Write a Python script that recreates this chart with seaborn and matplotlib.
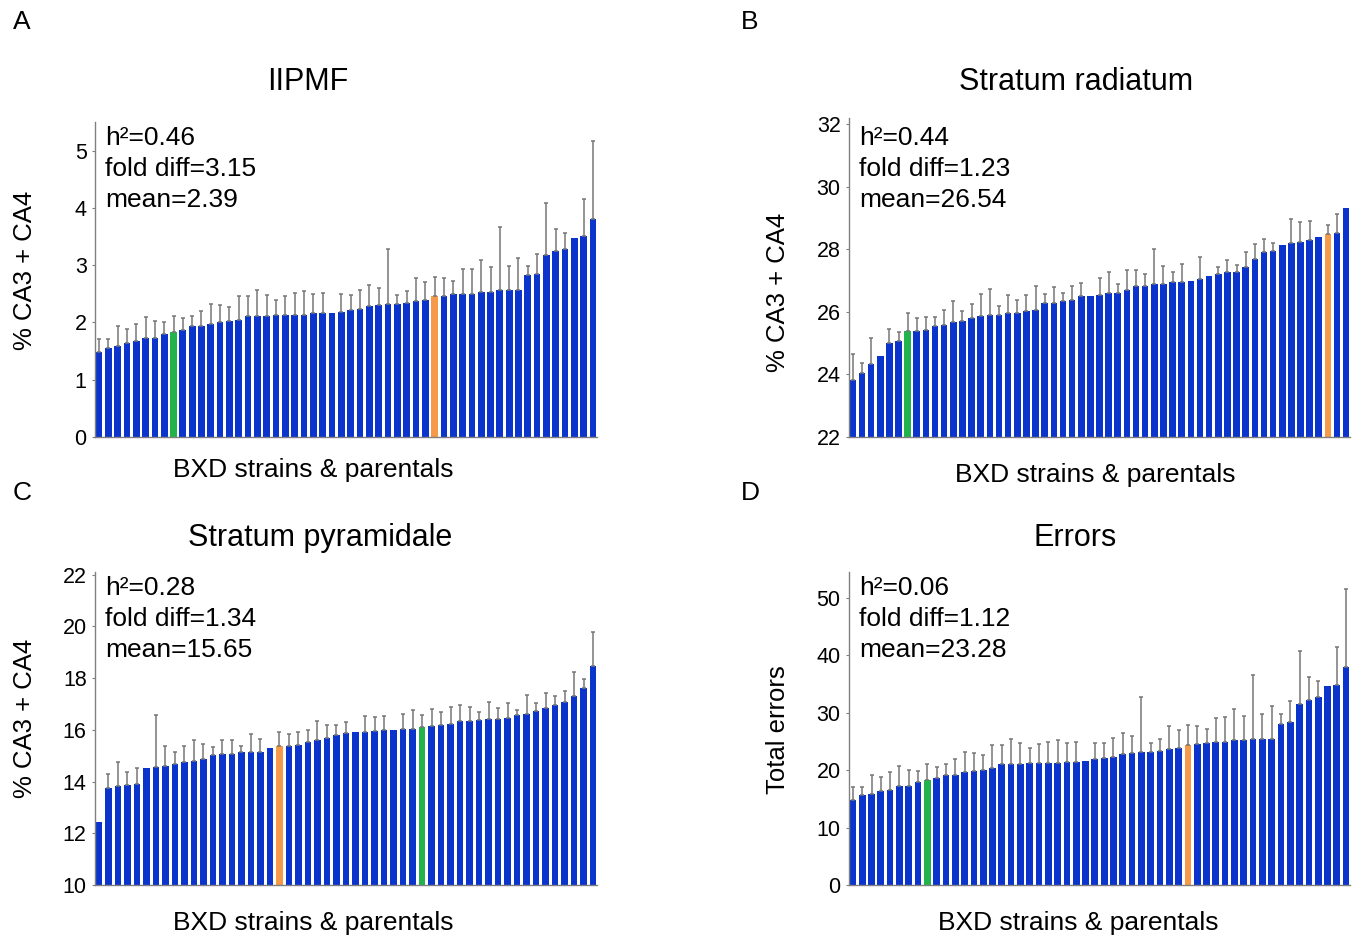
import numpy as np
import pandas as pd
import matplotlib
matplotlib.use("Agg")
import matplotlib.pyplot as plt
import seaborn as sns

nan = np.nan

# A: IIPMF
iipmf_mean = [1.49, 1.56, 1.59, 1.65, 1.67, 1.72, 1.72, 1.79, 1.84, 1.87,
              1.93, 1.93, 1.98, 2.00, 2.02, 2.04, 2.11, 2.11, 2.11, 2.13,
              2.13, 2.13, 2.13, 2.16, 2.16, 2.17, 2.19, 2.21, 2.24, 2.29,
              2.31, 2.33, 2.33, 2.34, 2.37, 2.40, 2.46, 2.47, 2.49, 2.50,
              2.50, 2.53, 2.53, 2.56, 2.56, 2.56, 2.83, 2.84, 3.18, 3.24,
              3.29, 3.47, 3.51, 3.81]
iipmf_upper = [1.71, 1.71, 1.93, 1.88, 1.98, 2.09, 2.02, 2.00, 2.11, 2.08,
               2.11, 2.20, 2.32, 2.31, 2.27, 2.46, 2.46, 2.56, 2.48, 2.39,
               2.47, 2.51, 2.55, 2.50, 2.51, nan, 2.50, 2.48, 2.56, 2.65,
               2.60, 3.29, 2.48, 2.55, 2.77, 2.71, 2.80, 2.77, 2.72, 2.93,
               2.94, 3.09, 2.96, 3.66, 2.98, 3.13, 2.98, 3.20, 4.08, 3.63,
               3.57, nan, 4.16, 5.17]

# B: stratum radiatum
rad_mean = [23.82, 24.06, 24.33, 24.60, 25.00, 25.07, 25.39, 25.39, 25.42, 25.55,
            25.57, 25.68, 25.72, 25.82, 25.87, 25.89, 25.90, 25.95, 25.97, 26.02,
            26.07, 26.30, 26.30, 26.35, 26.37, 26.50, 26.50, 26.53, 26.60, 26.61,
            26.71, 26.82, 26.82, 26.88, 26.89, 26.96, 26.96, 26.99, 27.06, 27.15,
            27.22, 27.26, 27.26, 27.44, 27.70, 27.90, 27.95, 28.13, 28.20, 28.24,
            28.30, 28.41, 28.48, 28.52, 29.33]
rad_upper = [24.64, 24.37, 25.15, nan, 25.45, 25.37, 25.98, 25.79, 25.84, 25.84,
             26.06, 26.35, 26.04, 26.25, 26.56, 26.73, 26.19, 26.53, 26.37, 26.54,
             26.82, 26.57, 26.79, 26.59, 26.83, 26.91, nan, 27.09, 27.27, 26.89,
             27.33, 27.35, 27.22, 28.00, 27.47, 27.28, 27.52, nan, 27.76, nan,
             27.43, 27.66, 27.50, 27.91, 28.16, 28.33, 28.19, nan, 28.96, 28.86,
             28.91, nan, 28.77, 29.13, nan]

# C: stratum pyramidale
pyr_mean = [12.45, 13.74, 13.83, 13.87, 13.91, 14.52, 14.56, 14.60, 14.67, 14.77,
            14.79, 14.88, 15.02, 15.07, 15.08, 15.14, 15.15, 15.16, 15.30, 15.36,
            15.39, 15.42, 15.54, 15.61, 15.70, 15.80, 15.86, 15.90, 15.92, 15.95,
            15.99, 16.01, 16.04, 16.05, 16.12, 16.13, 16.18, 16.23, 16.34, 16.35,
            16.39, 16.40, 16.43, 16.47, 16.56, 16.62, 16.74, 16.86, 16.97, 17.07,
            17.32, 17.61, 18.45]
pyr_upper = [nan, 14.30, 14.77, 14.35, 14.52, nan, 16.58, 15.36, 15.16, 15.36,
             15.61, 15.46, 15.33, 15.59, 15.59, 15.38, 15.85, 15.64, nan, 15.91,
             15.82, 15.91, 16.00, 16.35, 16.17, 16.17, 16.32, nan, 16.52, 16.48,
             16.54, nan, 16.62, 16.78, 16.56, 16.79, 16.67, 16.88, 16.97, 16.89,
             16.67, 17.06, 16.85, 17.05, 16.78, 17.34, 17.05, 17.42, 17.32, 17.51,
             18.23, 17.96, 19.78]

# D: errors
err_mean = [14.8, 15.6, 15.8, 16.4, 16.6, 17.2, 17.2, 17.9, 18.3, 18.6,
            19.2, 19.2, 19.7, 19.9, 20.0, 20.3, 21.0, 21.0, 21.0, 21.2,
            21.2, 21.2, 21.2, 21.5, 21.5, 21.6, 21.9, 22.1, 22.3, 22.8,
            23.0, 23.2, 23.2, 23.3, 23.6, 23.9, 24.4, 24.6, 24.7, 24.9,
            24.9, 25.2, 25.3, 25.4, 25.4, 25.4, 28.1, 28.3, 31.6, 32.2,
            32.8, 34.6, 34.9, 37.9]
err_upper = [17.0, 17.0, 19.2, 18.8, 19.6, 20.8, 20.1, 19.9, 21.1, 20.6,
             21.1, 21.9, 23.1, 22.9, 22.6, 24.4, 24.4, 25.5, 24.7, 23.8,
             24.6, 24.9, 25.3, 24.7, 24.9, nan, 24.8, 24.7, 25.6, 26.4,
             25.9, 32.7, 24.7, 25.4, 27.6, 27.0, 27.9, 27.6, 27.1, 29.1,
             29.3, 30.7, 29.5, 36.5, 29.7, 31.2, 29.7, 32.0, 40.7, 36.2,
             35.5, nan, 41.4, 51.6]

panels = [
    dict(letter="A", title="IIPMF", mean=iipmf_mean, upper=iipmf_upper,
         green=8, orange=36, ylim=(0, 5.5), ticks=[0, 1, 2, 3, 4, 5],
         ylabel="% CA3 + CA4", stats=("0.46", "3.15", "2.39")),
    dict(letter="B", title="Stratum radiatum", mean=rad_mean, upper=rad_upper,
         green=6, orange=52, ylim=(22, 32.2), ticks=[22, 24, 26, 28, 30, 32],
         ylabel="% CA3 + CA4", stats=("0.44", "1.23", "26.54")),
    dict(letter="C", title="Stratum pyramidale", mean=pyr_mean, upper=pyr_upper,
         green=34, orange=19, ylim=(10, 22.1), ticks=[10, 12, 14, 16, 18, 20, 22],
         ylabel="% CA3 + CA4", stats=("0.28", "1.34", "15.65")),
    dict(letter="D", title="Errors", mean=err_mean, upper=err_upper,
         green=8, orange=36, ylim=(0, 54.5), ticks=[0, 10, 20, 30, 40, 50],
         ylabel="Total errors", stats=("0.06", "1.12", "23.28")),
]

BLUE = "#0a34cc"
GREEN = "#22b34c"
ORANGE = "#f59a48"

sns.set_style("white")
plt.rcParams["font.family"] = ["Liberation Sans", "DejaVu Sans"]
plt.rcParams["text.color"] = "black"
plt.rcParams["ytick.labelcolor"] = "black"

W, H = 1357, 941
fig = plt.figure(figsize=(W / 100, H / 100), dpi=100)

# axes boxes in pixels: left, top, right, bottom
boxes = [(95, 122, 597, 437), (849, 118, 1350, 437),
         (95, 572, 597, 885), (849, 572, 1350, 885)]
title_x = [308, 1076, 320, 1075]
title_y = [82, 82, 538, 538]
xlab_x = [313, 1095, 313, 1078]
xlab_y = [470, 475, 923, 923]
ylab_x = [25, 778, 25, 778]
ylab_y = [270, 292, 718, 730]
stats_top = [126, 126, 576, 576]
letter_pos = [(22, 22), (750, 22), (22, 493), (750, 493)]

for p, (l, t, r, b), tx, ty, xx, xy, yx, yy, st, lp in zip(
        panels, boxes, title_x, title_y, xlab_x, xlab_y, ylab_x, ylab_y,
        stats_top, letter_pos):
    ax = fig.add_axes([l / W, 1 - b / H, (r - l) / W, (b - t) / H])
    n = len(p["mean"])
    idx = list(range(n))
    colors = [BLUE] * n
    colors[p["green"]] = GREEN
    colors[p["orange"]] = ORANGE
    df = pd.DataFrame({"strain": idx, "value": p["mean"]})
    sns.barplot(data=df, x="strain", y="value", hue="strain",
                palette=dict(zip(idx, colors)), legend=False, width=0.72,
                saturation=1, linewidth=0, ax=ax)

    mean = np.array(p["mean"])
    upper = np.array(p["upper"])
    ok = ~np.isnan(upper)
    xs = np.arange(n)[ok]
    ax.errorbar(xs, mean[ok], yerr=[np.zeros(ok.sum()), upper[ok] - mean[ok]],
                fmt="none", ecolor="#767676", elinewidth=1.1, capsize=1.6,
                capthick=1.1, zorder=1)

    ax.set_xlim(-0.42, n - 0.58)
    ax.set_ylim(*p["ylim"])
    ax.set_yticks(p["ticks"])
    ax.set_xticks([])
    ax.set_xlabel("")
    ax.set_ylabel("")
    for s in ["top", "right"]:
        ax.spines[s].set_visible(False)
    for s in ["left", "bottom"]:
        ax.spines[s].set_color("#808080")
        ax.spines[s].set_linewidth(1.0)
    ax.tick_params(axis="y", left=True, length=2, width=0.8, color="#808080",
                   pad=4, labelsize=15.5, labelcolor="black")

    h2, fold, mu = p["stats"]
    fig.text(105 / W if l < 400 else 859 / W, 1 - st / H,
             f"h²={h2}\nfold diff={fold}\nmean={mu}",
             ha="left", va="top", fontsize=19, linespacing=1.38, color="black")

    fig.text(tx / W, 1 - ty / H, p["title"], ha="center", va="center",
             fontsize=22, color="black")
    fig.text(xx / W, 1 - xy / H, "BXD strains & parentals", ha="center",
             va="center", fontsize=19, color="black")
    fig.text(yx / W, 1 - yy / H, p["ylabel"], ha="center", va="center",
             rotation=90, fontsize=18.5, color="black")
    fig.text(lp[0] / W, 1 - lp[1] / H, p["letter"], ha="center", va="center",
             fontsize=19, color="black")

fig.savefig("out.png", dpi=100)
